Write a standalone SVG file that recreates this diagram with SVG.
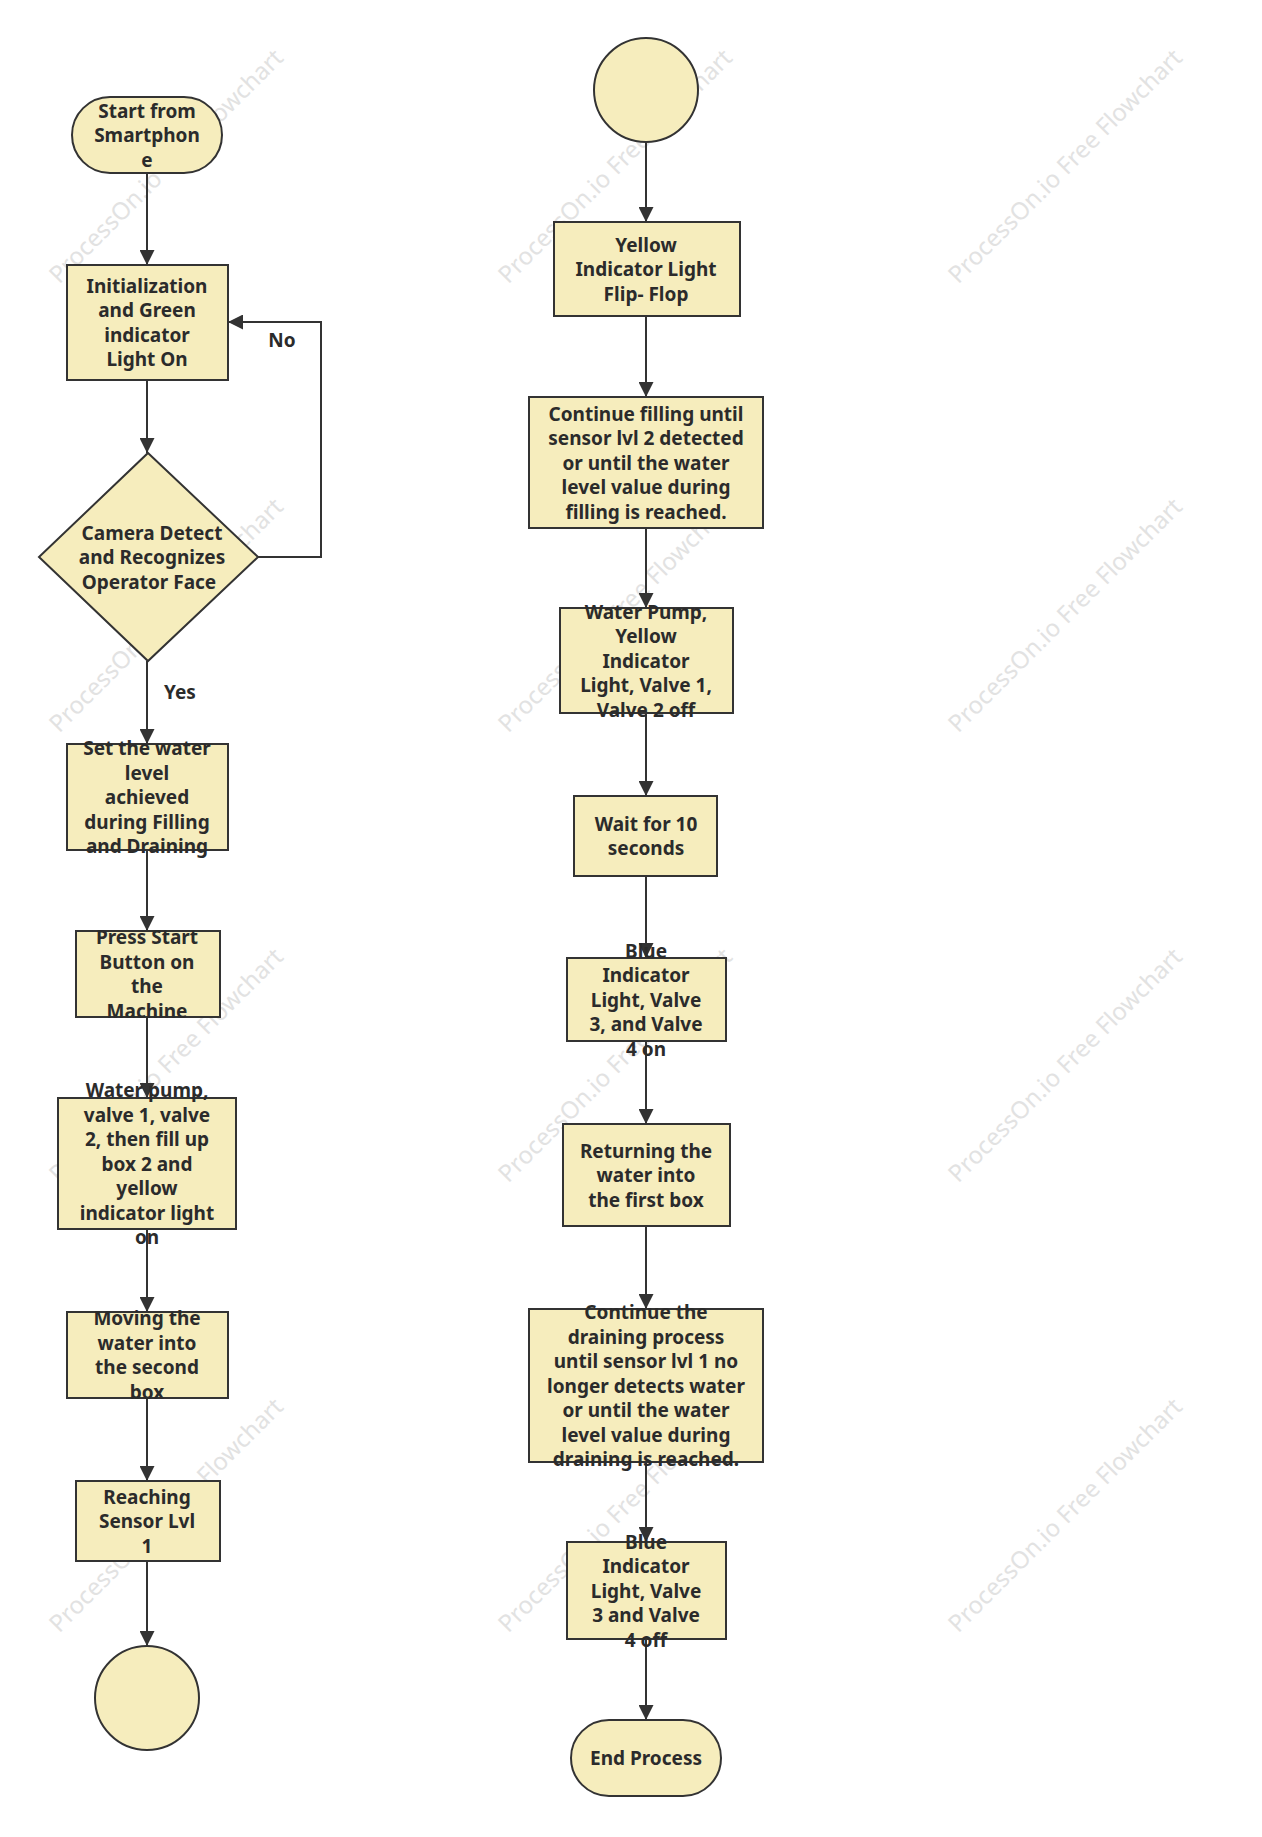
<svg xmlns="http://www.w3.org/2000/svg" width="1262" height="1837" viewBox="0 0 1262 1837">
<style>
.n{fill:#f6edbd;stroke:#333;stroke-width:2}
.t{font-family:"Noto Sans","DejaVu Sans",sans-serif;font-weight:bold;font-size:19px;fill:#2b2b2b;text-anchor:middle}
.c{stroke:#333;stroke-width:2;fill:none}
.w{font-family:"Noto Sans",sans-serif;font-size:24px;fill:#e2e2e2;text-anchor:middle}
</style>
<defs><marker id="a" viewBox="0 0 10 10" refX="10" refY="5" markerWidth="7.5" markerHeight="7.5" orient="auto"><path d="M0,0 L10,5 L0,10 z" fill="#333"/></marker></defs>
<rect width="1262" height="1837" fill="#fff"/>
<g id="watermarks">
<text class="w" transform="translate(172,172) rotate(-45)">ProcessOn.io Free Flowchart</text>
<text class="w" transform="translate(621,172) rotate(-45)">ProcessOn.io Free Flowchart</text>
<text class="w" transform="translate(1071,172) rotate(-45)">ProcessOn.io Free Flowchart</text>
<text class="w" transform="translate(172,621) rotate(-45)">ProcessOn.io Free Flowchart</text>
<text class="w" transform="translate(621,621) rotate(-45)">ProcessOn.io Free Flowchart</text>
<text class="w" transform="translate(1071,621) rotate(-45)">ProcessOn.io Free Flowchart</text>
<text class="w" transform="translate(172,1071) rotate(-45)">ProcessOn.io Free Flowchart</text>
<text class="w" transform="translate(621,1071) rotate(-45)">ProcessOn.io Free Flowchart</text>
<text class="w" transform="translate(1071,1071) rotate(-45)">ProcessOn.io Free Flowchart</text>
<text class="w" transform="translate(172,1521) rotate(-45)">ProcessOn.io Free Flowchart</text>
<text class="w" transform="translate(621,1521) rotate(-45)">ProcessOn.io Free Flowchart</text>
<text class="w" transform="translate(1071,1521) rotate(-45)">ProcessOn.io Free Flowchart</text>
</g>
<g id="connectors">
<path class="c" marker-end="url(#a)" d="M147,173V265"/>
<path class="c" marker-end="url(#a)" d="M147,380V453"/>
<path class="c" marker-end="url(#a)" d="M147,661V744"/>
<path class="c" marker-end="url(#a)" d="M147,850V931"/>
<path class="c" marker-end="url(#a)" d="M147,1017V1098"/>
<path class="c" marker-end="url(#a)" d="M147,1229V1312"/>
<path class="c" marker-end="url(#a)" d="M147,1398V1481"/>
<path class="c" marker-end="url(#a)" d="M147,1561V1646"/>
<path class="c" marker-end="url(#a)" d="M258,557H321V322H228"/>
<path class="c" marker-end="url(#a)" d="M646,142V222"/>
<path class="c" marker-end="url(#a)" d="M646,316V397"/>
<path class="c" marker-end="url(#a)" d="M646,528V608"/>
<path class="c" marker-end="url(#a)" d="M646,713V796"/>
<path class="c" marker-end="url(#a)" d="M646,876V958"/>
<path class="c" marker-end="url(#a)" d="M646,1041V1124"/>
<path class="c" marker-end="url(#a)" d="M646,1226V1309"/>
<path class="c" marker-end="url(#a)" d="M646,1462V1542"/>
<path class="c" marker-end="url(#a)" d="M646,1639V1720"/>
<text class="t" x="282" y="347">No</text>
<text class="t" x="180" y="699">Yes</text>
</g>
<g id="start"><rect class="n" x="72" y="97" width="150" height="76" rx="38"/><text class="t"><tspan x="147" y="118">Start from</tspan><tspan x="147" y="142">Smartphon</tspan><tspan x="147" y="167">e</tspan></text></g>
<g id="init"><rect class="n" x="67" y="265" width="161" height="115"/><text class="t"><tspan x="147" y="293">Initialization</tspan><tspan x="147" y="317">and Green</tspan><tspan x="147" y="342">indicator</tspan><tspan x="147" y="366">Light On</tspan></text></g>
<g id="camera"><path class="n" d="M148,453L258,557L148,661L39,557Z"/><text class="t"><tspan x="152" y="540">Camera Detect</tspan><tspan x="152" y="564">and Recognizes</tspan><tspan x="149" y="589">Operator Face</tspan></text></g>
<g id="setlevel"><rect class="n" x="67" y="744" width="161" height="106"/><text class="t"><tspan x="147" y="755">Set the water</tspan><tspan x="147" y="780">level</tspan><tspan x="147" y="804">achieved</tspan><tspan x="147" y="829">during Filling</tspan><tspan x="147" y="853">and Draining</tspan></text></g>
<g id="press"><rect class="n" x="76" y="931" width="144" height="86"/><text class="t"><tspan x="147" y="944">Press Start</tspan><tspan x="147" y="969">Button on</tspan><tspan x="147" y="993">the</tspan><tspan x="147" y="1018">Machine</tspan></text></g>
<g id="pump"><rect class="n" x="58" y="1098" width="178" height="131"/><text class="t"><tspan x="147" y="1097">Water pump,</tspan><tspan x="147" y="1122">valve 1, valve</tspan><tspan x="147" y="1146">2, then fill up</tspan><tspan x="147" y="1171">box 2 and</tspan><tspan x="147" y="1195">yellow</tspan><tspan x="147" y="1220">indicator light</tspan><tspan x="147" y="1244">on</tspan></text></g>
<g id="moving"><rect class="n" x="67" y="1312" width="161" height="86"/><text class="t"><tspan x="147" y="1325">Moving the</tspan><tspan x="147" y="1350">water into</tspan><tspan x="147" y="1374">the second</tspan><tspan x="147" y="1399">box</tspan></text></g>
<g id="reaching"><rect class="n" x="76" y="1481" width="144" height="80"/><text class="t"><tspan x="147" y="1504">Reaching</tspan><tspan x="147" y="1528">Sensor Lvl</tspan><tspan x="147" y="1553">1</tspan></text></g>
<g id="conn1"><circle class="n" cx="147" cy="1698" r="52"/></g>
<g id="conn2"><circle class="n" cx="646" cy="90" r="52"/></g>
<g id="yellow"><rect class="n" x="554" y="222" width="186" height="94"/><text class="t"><tspan x="646" y="252">Yellow</tspan><tspan x="646" y="276">Indicator Light</tspan><tspan x="646" y="301">Flip- Flop</tspan></text></g>
<g id="filling"><rect class="n" x="529" y="397" width="234" height="131"/><text class="t"><tspan x="646" y="421">Continue filling until</tspan><tspan x="646" y="445">sensor lvl 2 detected</tspan><tspan x="646" y="470">or until the water</tspan><tspan x="646" y="494">level value during</tspan><tspan x="646" y="519">filling is reached.</tspan></text></g>
<g id="pumpoff"><rect class="n" x="560" y="608" width="173" height="105"/><text class="t"><tspan x="646" y="619">Water Pump,</tspan><tspan x="646" y="643">Yellow</tspan><tspan x="646" y="668">Indicator</tspan><tspan x="646" y="692">Light, Valve 1,</tspan><tspan x="646" y="717">Valve 2 off</tspan></text></g>
<g id="wait"><rect class="n" x="574" y="796" width="143" height="80"/><text class="t"><tspan x="646" y="831">Wait for 10</tspan><tspan x="646" y="855">seconds</tspan></text></g>
<g id="blueon"><rect class="n" x="567" y="958" width="159" height="83"/><text class="t"><tspan x="646" y="958">Blue</tspan><tspan x="646" y="982">Indicator</tspan><tspan x="646" y="1007">Light, Valve</tspan><tspan x="646" y="1031">3, and Valve</tspan><tspan x="646" y="1056">4 on</tspan></text></g>
<g id="returning"><rect class="n" x="563" y="1124" width="167" height="102"/><text class="t"><tspan x="646" y="1158">Returning the</tspan><tspan x="646" y="1182">water into</tspan><tspan x="646" y="1207">the first box</tspan></text></g>
<g id="draining"><rect class="n" x="529" y="1309" width="234" height="153"/><text class="t"><tspan x="646" y="1319">Continue the</tspan><tspan x="646" y="1344">draining process</tspan><tspan x="646" y="1368">until sensor lvl 1 no</tspan><tspan x="646" y="1393">longer detects water</tspan><tspan x="646" y="1417">or until the water</tspan><tspan x="646" y="1442">level value during</tspan><tspan x="646" y="1466">draining is reached.</tspan></text></g>
<g id="blueoff"><rect class="n" x="567" y="1542" width="159" height="97"/><text class="t"><tspan x="646" y="1549">Blue</tspan><tspan x="646" y="1573">Indicator</tspan><tspan x="646" y="1598">Light, Valve</tspan><tspan x="646" y="1622">3 and Valve</tspan><tspan x="646" y="1647">4 off</tspan></text></g>
<g id="end"><rect class="n" x="571" y="1720" width="150" height="76" rx="38"/><text class="t" x="646" y="1765">End Process</text></g>
</svg>
